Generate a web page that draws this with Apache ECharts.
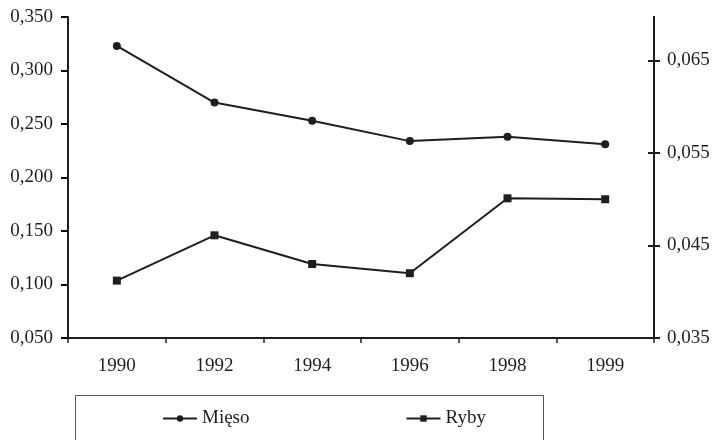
<!DOCTYPE html>
<html><head><meta charset="utf-8">
<script src="https://cdn.jsdelivr.net/npm/echarts@6/dist/echarts.min.js"></script>
<style>html,body{margin:0;padding:0;background:#fff}#c{width:715px;height:440px}</style>
</head><body><div id="c"></div>
<script>
const categories = ['1990','1992','1994','1996','1998','1999'];
const mieso = [0.323, 0.270, 0.253, 0.234, 0.238, 0.231];
const ryby = [0.0412, 0.0461, 0.0430, 0.0420, 0.0501, 0.0500];
const leftTicks = [0.05, 0.10, 0.15, 0.20, 0.25, 0.30, 0.35];
const rightTicks = [0.035, 0.045, 0.055, 0.065];
const seriesNames = ['Mięso', 'Ryby'];

const FONT = 'Liberation Serif';
const INK = '#1e1e1e';
const fmt = v => v.toFixed(3).replace('.', ',');

const chart = echarts.init(document.getElementById('c'), null, {renderer: 'canvas'});
const rightMin = 0.035, rightMax = 0.0697;
chart.setOption({
  animation: false,
  backgroundColor: '#fff',
  grid: {left: 68, right: 61, top: 17, bottom: 102, containLabel: false},
  legend: {
    left: 157, top: 404,
    itemWidth: 34, itemHeight: 8, itemGap: 156,
    textStyle: {fontFamily: FONT, fontSize: 19, color: INK},
    data: seriesNames
  },
  graphic: [{
    type: 'rect', shape: {x: 75.5, y: 395.5, width: 468, height: 60},
    style: {fill: 'none', stroke: '#555', lineWidth: 1}, silent: true, z: -1
  }],
  xAxis: {
    type: 'category', data: categories, boundaryGap: true,
    axisLine: {lineStyle: {color: INK, width: 2}},
    axisTick: {show: true, length: 5, inside: false, lineStyle: {color: INK, width: 1.5}},
    axisLabel: {fontFamily: FONT, fontSize: 19, color: INK, margin: 19},
    splitLine: {show: false}
  },
  yAxis: [{
    type: 'value', position: 'left', min: leftTicks[0], max: leftTicks[leftTicks.length - 1], interval: 0.05,
    axisLine: {show: true, lineStyle: {color: INK, width: 2}},
    axisTick: {show: true, length: 7, lineStyle: {color: '#000', width: 2}},
    axisLabel: {fontFamily: FONT, fontSize: 19, color: INK, margin: 15, formatter: fmt},
    splitLine: {show: false}
  }, {
    type: 'value', position: 'right', min: rightMin, max: rightMax,
    axisLine: {show: true, lineStyle: {color: INK, width: 2}},
    axisTick: {show: true, length: 6, lineStyle: {color: INK, width: 2}, customValues: rightTicks},
    axisLabel: {fontFamily: FONT, fontSize: 19, color: INK, margin: 13, formatter: fmt,
                customValues: rightTicks},
    splitLine: {show: false}
  }, {
    type: 'value', position: 'right', min: rightMin, max: rightMax,
    axisLine: {show: true, lineStyle: {color: INK, width: 2}},
    axisTick: {show: true, inside: true, length: 6, lineStyle: {color: INK, width: 2}, customValues: rightTicks},
    axisLabel: {show: false, customValues: rightTicks},
    splitLine: {show: false}
  }],
  series: [{
    name: seriesNames[0], type: 'line', yAxisIndex: 0, data: mieso,
    symbol: 'circle', symbolSize: 8,
    lineStyle: {color: INK, width: 2}, itemStyle: {color: INK}
  }, {
    name: seriesNames[1], type: 'line', yAxisIndex: 1, data: ryby,
    symbol: 'rect', symbolSize: 8,
    lineStyle: {color: INK, width: 2}, itemStyle: {color: INK}
  }]
});
</script></body></html>
